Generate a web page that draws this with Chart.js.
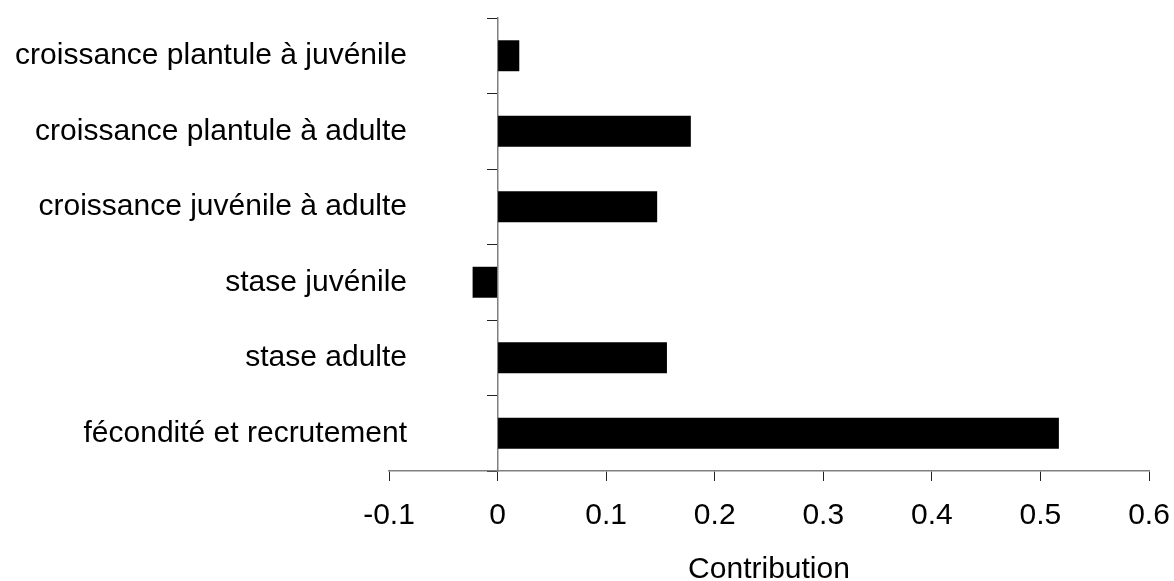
<!DOCTYPE html>
<html>
<head>
<meta charset="utf-8">
<script src="https://cdn.jsdelivr.net/npm/chart.js@4"></script>
<style>
  html, body { margin: 0; padding: 0; background: #fff; }
  #wrap { width: 1174px; height: 581px; }
</style>
</head>
<body>
<div id="wrap"><canvas id="contribChart"></canvas></div>
<script>
// Catégories (de haut en bas) et contributions
const categories = [
    'croissance plantule à juvénile',
    'croissance plantule à adulte',
    'croissance juvénile à adulte',
    'stase juvénile',
    'stase adulte',
    'fécondité et recrutement'
];
const contributions = [0.02, 0.178, 0.147, -0.023, 0.156, 0.517];
const xTicks = [-0.1, 0, 0.1, 0.2, 0.3, 0.4, 0.5, 0.6];

const font = { family: "'Liberation Sans', Arial, sans-serif", size: 30 };

document.addEventListener('DOMContentLoaded', function() {
    const ctx = document.getElementById('contribChart').getContext('2d');
    new Chart(ctx, {
        type: 'bar',
        data: {
            labels: categories,
            datasets: [{
                data: contributions,
                backgroundColor: '#000',
                borderWidth: 0,
                barPercentage: 0.41,
                categoryPercentage: 1
            }]
        },
        options: {
            indexAxis: 'y',
            responsive: true,
            maintainAspectRatio: false,
            animation: false,
            layout: { padding: { left: 389, right: 25, top: 16, bottom: -7 } },
            plugins: {
                legend: { display: false },
                tooltip: { enabled: false }
            },
            scales: {
                x: {
                    type: 'linear',
                    min: xTicks[0],
                    max: xTicks[xTicks.length - 1],
                    afterBuildTicks: function(scale) {
                        scale.ticks = xTicks.map(v => ({ value: v }));
                    },
                    // pas de marge supplémentaire à droite pour le dernier libellé
                    afterFit: function(scale) { scale.paddingRight = 0; },
                    ticks: {
                        color: '#000',
                        font: font,
                        padding: 17,
                        maxRotation: 0,
                        callback: v => String(parseFloat(Number(v).toFixed(1)))
                    },
                    grid: { drawOnChartArea: false, tickLength: 10, color: '#222', lineWidth: 1 },
                    border: { display: true, color: '#808080', width: 1.5 },
                    title: {
                        display: true,
                        text: 'Contribution',
                        color: '#000',
                        font: font,
                        padding: { top: 1, bottom: 0 }
                    }
                },
                // axe des libellés : placé juste à droite du bord gauche du graphique
                y: {
                    type: 'category',
                    position: { x: -0.0834 },
                    ticks: { color: '#000', font: font, padding: 0 },
                    grid: { display: false, drawTicks: false },
                    border: { display: false }
                },
                // axe vertical à x = 0 avec graduations entre catégories
                yAxe0: {
                    type: 'category',
                    axis: 'y',
                    position: { x: 0 },
                    offset: true,
                    ticks: { display: false },
                    grid: { offset: true, drawOnChartArea: false, tickLength: 10, color: '#222' },
                    border: { display: true, color: '#808080', width: 1.5 }
                }
            }
        }
    });
});
</script>
</body>
</html>
